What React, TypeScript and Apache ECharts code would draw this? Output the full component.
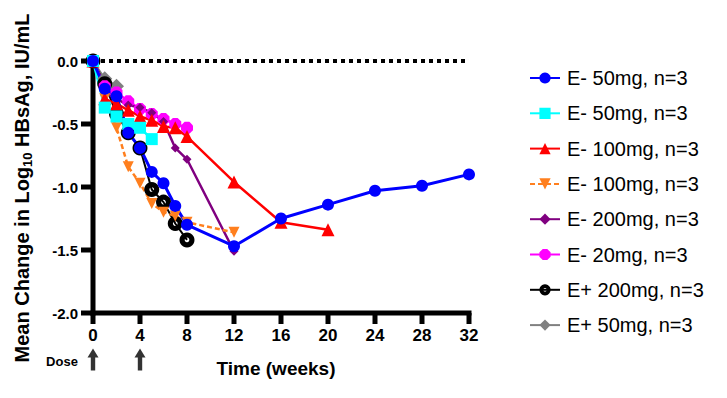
import React, { useEffect, useRef } from "react";
import * as echarts from "echarts";

const weeksLong = [0, 1, 2, 3, 4, 5, 6, 7, 8, 12, 16, 20, 24, 28, 32];
const blue50 = [0, -0.22, -0.28, -0.57, -0.69, -0.88, -0.97, -1.15, -1.3, -1.47, -1.25, -1.14, -1.03, -0.99, -0.9];
const weeksCyan = [0, 1, 2, 3, 4, 5];
const cyan50 = [0, -0.37, -0.44, -0.5, -0.53, -0.62];
const weeksRed = [0, 1, 2, 3, 4, 5, 6, 7, 8, 12, 16, 20];
const red100 = [0, -0.3, -0.34, -0.39, -0.44, -0.47, -0.52, -0.53, -0.6, -0.96, -1.28, -1.34];
const weeksTo12 = [0, 1, 2, 3, 4, 5, 6, 7, 8, 12];
const orange100 = [0, -0.3, -0.53, -0.84, -0.97, -1.13, -1.2, -1.23, -1.28, -1.36];
const purple200 = [0, -0.25, -0.3, -0.35, -0.37, -0.41, -0.48, -0.69, -0.78, -1.51];
const weeksTo8 = [0, 1, 2, 3, 4, 5, 6, 7, 8];
const magenta20 = [0, -0.2, -0.25, -0.32, -0.38, -0.42, -0.46, -0.5, -0.53];
const black200 = [0, -0.18, -0.42, -0.57, -0.69, -1.02, -1.12, -1.29, -1.42];
const weeksGrey = [0, 1, 2];
const grey50 = [0, -0.14, -0.2];
const baselineWeeks = [0, 4, 8, 12, 16, 20, 24, 28, 32];
const doseWeeks = [0, 4];
const doseLevel = -2.37;

const xTicks = [0, 4, 8, 12, 16, 20, 24, 28, 32];
const yTicks = [0, -0.5, -1, -1.5, -2];

const legendNames = [
  "E- 50mg, n=3",
  "E- 50mg, n=3 ",
  "E- 100mg, n=3",
  "E- 100mg, n=3 ",
  "E- 200mg, n=3",
  "E- 20mg, n=3",
  "E+ 200mg, n=3",
  "E+ 50mg, n=3",
];

const FONT = "'Liberation Sans', Arial, sans-serif";

function pairs(xs: number[], ys: number[]) {
  return xs.map((x, i) => [x, ys[i]]);
}

const downTri = "path://M0,0 L10,0 L5,9 Z";
const octagon = "path://M3,0 L7,0 L10,3 L10,7 L7,10 L3,10 L0,7 L0,3 Z";
const arrow = "path://M5,0 L10,9 L7,9 L7,22 L3,22 L3,9 L0,9 Z";
const ringDot = "path://M8,0 A8,8 0 1,1 7.99,0 Z M8,5.5 A2.5,2.5 0 1,0 8.01,5.5 Z";

// axis frame items: [kind, value]  kind 0 = y tick, 1 = x tick, 2 = y axis line, 3 = x axis line
const frameItems: number[][] = [
  ...yTicks.map((v) => [0, v]),
  ...xTicks.map((w) => [1, w]),
  [2, 0],
  [3, 0],
];

export default function App() {
  const ref = useRef<HTMLDivElement>(null);
  useEffect(() => {
    if (!ref.current) return;
    const chart = echarts.init(ref.current, null, { renderer: "svg" });
    const mk = (
      name: string,
      data: number[][],
      color: string,
      symbol: string,
      symbolSize: number,
      width: number,
      extra: any = {}
    ) => ({
      type: "line",
      name,
      data,
      symbol,
      symbolSize,
      showAllSymbol: true,
      clip: false,
      lineStyle: { color, width, ...(extra.lineStyle || {}) },
      itemStyle: { color, ...(extra.itemStyle || {}) },
      z: 3,
    });
    const T = 5;
    chart.setOption({
      animation: false,
      textStyle: { fontFamily: FONT },
      grid: { left: 93, top: 61, width: 376, height: 252 },
      xAxis: {
        type: "value",
        min: 0,
        max: 32,
        interval: 4,
        axisLine: { show: false, onZero: false },
        axisTick: { show: false },
        axisLabel: {
          color: "#000",
          fontSize: 17,
          fontWeight: "bold",
          fontFamily: FONT,
          margin: 14,
        },
        splitLine: { show: false },
      },
      yAxis: {
        type: "value",
        min: -2,
        max: 0,
        interval: 0.5,
        axisLine: { show: false, onZero: false },
        axisTick: { show: false },
        axisLabel: {
          color: "#000",
          fontSize: 15,
          fontWeight: "bold",
          fontFamily: FONT,
          margin: 15,
          formatter: (v: number) => v.toFixed(1),
        },
        splitLine: { show: false },
      },
      legend: {
        data: legendNames,
        orient: "vertical",
        left: 524,
        top: 63,
        itemWidth: 30,
        itemHeight: 14,
        itemGap: 15.3,
        textStyle: {
          color: "#000",
          fontSize: 20,
          lineHeight: 20,
          fontFamily: FONT,
          padding: [0, 0, 0, 2],
        },
        selectedMode: false,
      },
      graphic: [
        {
          type: "text",
          x: 22,
          y: 188,
          rotation: Math.PI / 2,
          style: {
            text: "{a|Mean Change in Log}{s|10}{a| HBsAg, IU/mL}",
            align: "center",
            verticalAlign: "middle",
            fill: "#000",
            rich: {
              a: { fontSize: 20, fontWeight: "bold", fontFamily: FONT, fill: "#000" },
              s: {
                fontSize: 13,
                fontWeight: "bold",
                fontFamily: FONT,
                fill: "#000",
                verticalAlign: "bottom",
                padding: [10, 0, 0, 0],
              },
            },
          },
        },
        {
          type: "text",
          x: 276,
          y: 368,
          style: {
            text: "Time (weeks)",
            align: "center",
            verticalAlign: "middle",
            fontSize: 19,
            fontWeight: "bold",
            fontFamily: FONT,
            fill: "#000",
          },
        },
        {
          type: "text",
          x: 62,
          y: 361,
          style: {
            text: "Dose",
            align: "center",
            verticalAlign: "middle",
            fontSize: 13,
            fontWeight: "bold",
            fontFamily: FONT,
            fill: "#000",
          },
        },
      ],
      series: [
        {
          type: "custom",
          name: "frame",
          data: frameItems,
          clip: false,
          silent: true,
          z: 1,
          encode: { x: -1, y: -1 },
          renderItem: (params: any, api: any) => {
            const kind = api.value(0);
            const v = api.value(1);
            const origin = api.coord([0, -2]);
            const topRight = api.coord([32, 0]);
            let shape;
            if (kind === 0) {
              const p = api.coord([0, v]);
              shape = { x: origin[0] - 12, y: p[1] - T / 2, width: 12, height: T };
            } else if (kind === 1) {
              const p = api.coord([v, -2]);
              shape = { x: p[0] - T / 2, y: origin[1], width: T, height: 11 };
            } else if (kind === 2) {
              shape = {
                x: origin[0] - T / 2,
                y: topRight[1],
                width: T,
                height: origin[1] - topRight[1] + T / 2,
              };
            } else {
              shape = {
                x: origin[0] - T / 2,
                y: origin[1] - T / 2,
                width: topRight[0] - origin[0] + T,
                height: T,
              };
            }
            return { type: "rect", shape, style: { fill: "#000" } };
          },
        },
        {
          type: "line",
          name: "baseline",
          data: baselineWeeks.map((w) => [w, 0]),
          symbol: "none",
          clip: false,
          lineStyle: { color: "#000", width: 4, type: "dotted" },
          z: 2,
        },
        {
          type: "scatter",
          name: "dose",
          data: doseWeeks.map((w) => [w, doseLevel]),
          symbol: arrow,
          symbolSize: [11, 22],
          clip: false,
          silent: true,
          itemStyle: { color: "#000" },
        },
        mk(legendNames[7], pairs(weeksGrey, grey50), "#808080", "diamond", 15, 2),
        mk(legendNames[6], pairs(weeksTo8, black200), "#000", ringDot, 15, 2),
        mk(legendNames[5], pairs(weeksTo8, magenta20), "#FF00FF", octagon, 12, 2.5),
        mk(legendNames[4], pairs(weeksTo12, purple200), "#800080", "diamond", 9, 2.5),
        mk(legendNames[3], pairs(weeksTo12, orange100), "#FF7F1E", downTri, 11, 2.5, {
          lineStyle: { type: [5, 3] },
        }),
        mk(legendNames[2], pairs(weeksRed, red100), "#FF0000", "triangle", 13, 2.5),
        mk(legendNames[1], pairs(weeksCyan, cyan50), "#00FFFF", "rect", 12, 2.5),
        mk(legendNames[0], pairs(weeksLong, blue50), "#0000FF", "circle", 12, 3),
      ],
    });
    return () => chart.dispose();
  }, []);
  return (
    <div
      ref={ref}
      style={{ position: "fixed", left: 0, top: 0, width: 727, height: 398, background: "#fff" }}
    />
  );
}
